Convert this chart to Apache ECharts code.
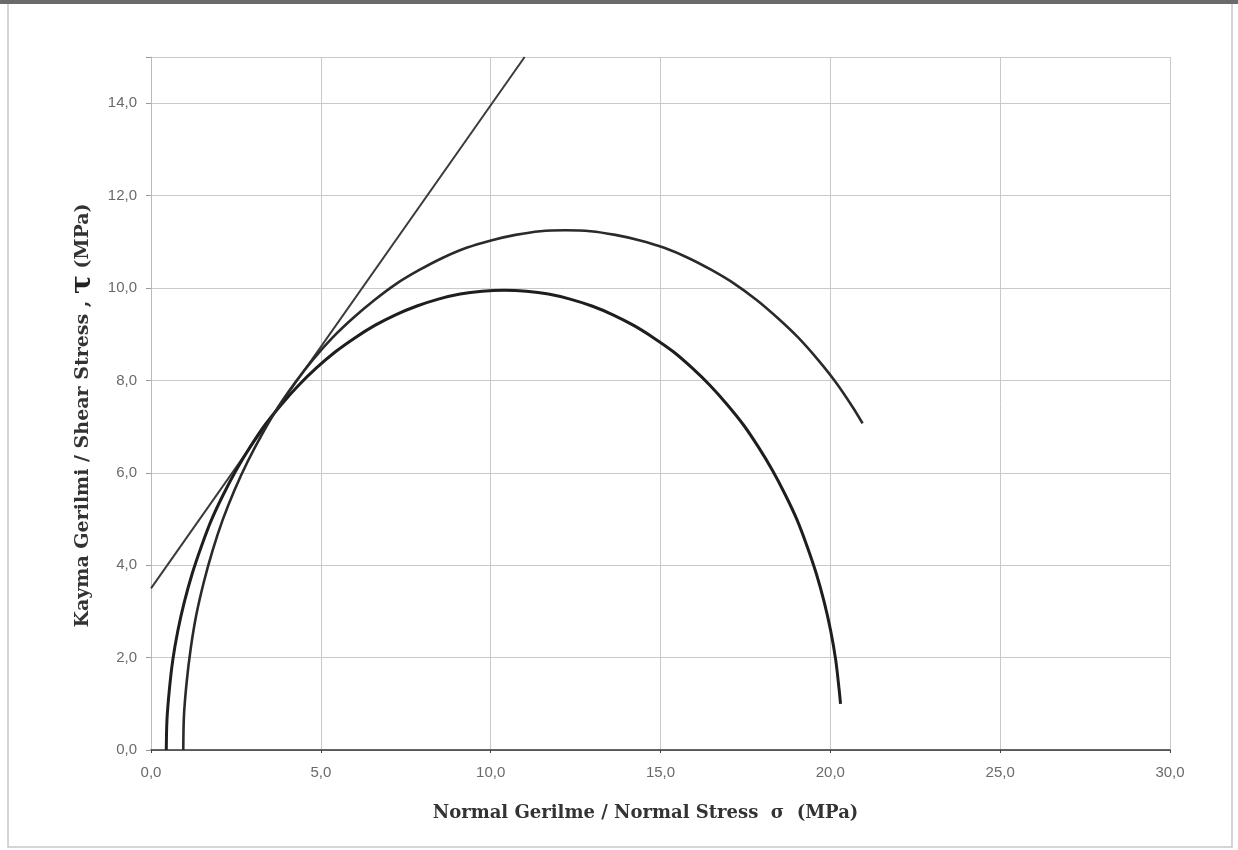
<!DOCTYPE html>
<html>
<head>
<meta charset="utf-8">
<script src="https://cdn.jsdelivr.net/npm/echarts@6/dist/echarts.min.js"></script>
<style>
html,body{margin:0;padding:0;background:#fff;}
#chart{width:1238px;height:850px;}
</style>
</head>
<body>
<div id="chart"></div>
<script>
// X ticks (normal stress, MPa) and Y ticks (shear stress, MPa)
const xTicks = [0, 5, 10, 15, 20, 25, 30];
const yTicks = [0, 2, 4, 6, 8, 10, 12, 14];

// Failure envelope (straight line): [sigma, tau]
const envelope = [[0.0, 3.5], [11.0, 15.0]];

// Mohr circle 1 (smaller)
const circleSmall = [
  [0.45, 0.0], [0.47, 0.65], [0.54, 1.30], [0.64, 1.94], [0.79, 2.58], [0.98, 3.20],
  [1.21, 3.81], [1.48, 4.40], [1.78, 4.98], [2.13, 5.53], [2.51, 6.06], [2.92, 6.56],
  [3.36, 7.04], [3.84, 7.48], [4.34, 7.89], [4.87, 8.27], [5.43, 8.62], [6.00, 8.92],
  [6.59, 9.19], [7.20, 9.42], [7.83, 9.61], [8.46, 9.76], [9.10, 9.87], [9.75, 9.93],
  [10.40, 9.95], [11.05, 9.93], [11.70, 9.87], [12.34, 9.76], [12.98, 9.61], [13.60, 9.42],
  [14.21, 9.19], [14.80, 8.92], [15.38, 8.62], [15.93, 8.27], [16.46, 7.89], [16.96, 7.48],
  [17.44, 7.04], [17.88, 6.56], [18.29, 6.06], [18.67, 5.53], [19.02, 4.98], [19.32, 4.40],
  [19.59, 3.81], [19.82, 3.20], [20.01, 2.58], [20.16, 1.94], [20.26, 1.30], [20.30, 1.0]
];

// Mohr circle 2 (larger)
const circleLarge = [
  [0.95, 0.0], [0.97, 0.74], [1.05, 1.47], [1.17, 2.20], [1.33, 2.91], [1.55, 3.62],
  [1.81, 4.31], [2.11, 4.98], [2.46, 5.63], [2.85, 6.25], [3.28, 6.85], [3.74, 7.42],
  [4.25, 7.96], [4.78, 8.46], [5.35, 8.93], [5.95, 9.35], [6.58, 9.74], [7.22, 10.09],
  [7.90, 10.39], [8.58, 10.65], [9.29, 10.87], [10.01, 11.03], [10.73, 11.15], [11.46, 11.23],
  [12.20, 11.25], [12.94, 11.23], [13.67, 11.15], [14.40, 11.03], [15.11, 10.87], [15.82, 10.65],
  [16.50, 10.39], [17.18, 10.09], [17.83, 9.74], [18.45, 9.35], [19.05, 8.93], [19.62, 8.46],
  [20.16, 7.96], [20.66, 7.42], [20.95, 7.07]
];

const chart = echarts.init(document.getElementById('chart'), null, {renderer: 'canvas'});
const fmt = v => v.toFixed(1).replace('.', ',');

chart.setOption({
  backgroundColor: '#ffffff',
  animation: false,
  graphic: [
    {type: 'rect', shape: {x: 8, y: 3, width: 1224, height: 844},
     style: {fill: 'none', stroke: '#c8c8c8', lineWidth: 1.5}, silent: true},
    {type: 'rect', shape: {x: 0, y: 0, width: 1238, height: 4},
     style: {fill: '#6a6a6a'}, silent: true}
  ],
  grid: {left: 151, right: 68, top: 57, bottom: 100, containLabel: false},
  xAxis: {
    type: 'value', min: xTicks[0], max: xTicks[xTicks.length - 1], interval: 5,
    name: 'Normal Gerilme / Normal Stress  σ  (MPa)',
    nameLocation: 'middle', nameGap: 54,
    nameTextStyle: {fontFamily: 'DejaVu Serif', fontWeight: 'bold', fontSize: 18, color: '#333',
                    padding: [0, 30, 0, 0]},
    axisLine: {show: true, lineStyle: {color: '#333', width: 1.5}},
    axisTick: {show: true, length: 3, inside: false, lineStyle: {color: '#444'}},
    axisLabel: {formatter: fmt, fontFamily: 'Liberation Sans', fontSize: 15, color: '#6a6a6a', margin: 15},
    splitLine: {show: true, lineStyle: {color: '#c9c9c9', width: 1}}
  },
  yAxis: {
    type: 'value', min: yTicks[0], max: 15, interval: 2,
    name: '{a|Kayma Gerilmi / Shear Stress , }{t|τ}{a| (MPa)}',
    nameLocation: 'middle', nameGap: 52, nameRotate: 90,
    nameTextStyle: {
      padding: [0, 24, 0, 0],
      rich: {
        a: {fontFamily: 'DejaVu Serif', fontWeight: 'bold', fontSize: 19, color: '#333'},
        t: {fontFamily: 'DejaVu Serif', fontWeight: 'bold', fontSize: 28, color: '#222'}
      }
    },
    axisLine: {show: true, lineStyle: {color: '#bbb', width: 1}},
    axisTick: {show: true, length: 5, lineStyle: {color: '#999'}},
    axisLabel: {
      formatter: v => (yTicks.indexOf(v) >= 0 ? fmt(v) : ''),
      fontFamily: 'Liberation Sans', fontSize: 15, color: '#6a6a6a', margin: 14
    },
    splitLine: {show: true, lineStyle: {color: '#c9c9c9', width: 1}}
  },
  series: [
    {type: 'line', data: envelope, showSymbol: false, symbol: 'none',
     lineStyle: {color: '#3a3a3a', width: 2}},
    {type: 'line', data: circleSmall, showSymbol: false, symbol: 'none', smooth: 0.3,
     lineStyle: {color: '#1e1e1e', width: 3}},
    {type: 'line', data: circleLarge, showSymbol: false, symbol: 'none', smooth: 0.3,
     lineStyle: {color: '#2a2a2a', width: 2.6}}
  ]
});
</script>
</body>
</html>
